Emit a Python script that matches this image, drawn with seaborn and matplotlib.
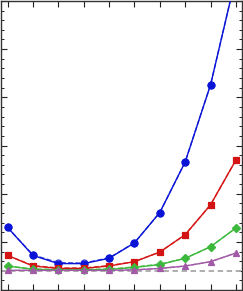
import numpy as np
import matplotlib
matplotlib.use("Agg")
import matplotlib.pyplot as plt
import seaborn as sns
from matplotlib.ticker import MultipleLocator

# x positions
steps = list(range(10))

# solid series (filled markers)
blue_vals = [1.30, 0.72, 0.55, 0.55, 0.66, 0.98, 1.61, 2.66, 4.26, 6.50]
red_vals = [0.72, 0.50, 0.45, 0.45, 0.50, 0.59, 0.79, 1.15, 1.77, 2.70]
green_vals = [0.50, 0.43, 0.42, 0.42, 0.43, 0.47, 0.53, 0.66, 0.90, 1.29]
purple_vals = [0.41, 0.41, 0.41, 0.41, 0.41, 0.42, 0.45, 0.50, 0.59, 0.77]

# dashed series (open markers), nearly on top of the solid ones
blue_dash = [1.30, 0.73, 0.57, 0.56, 0.67, 0.98, 1.61, 2.66, 4.26, 6.50]
red_dash = [0.72, 0.51, 0.46, 0.46, 0.51, 0.59, 0.79, 1.15, 1.77, 2.70]
green_dash = [0.50, 0.44, 0.43, 0.43, 0.44, 0.48, 0.54, 0.66, 0.90, 1.29]
purple_dash = [0.41, 0.41, 0.41, 0.41, 0.41, 0.42, 0.45, 0.50, 0.59, 0.77]

baseline = 0.4

sns.set_style("ticks")
plt.rcParams['font.family'] = ['DejaVu Sans']

fig = plt.figure(figsize=(2.43, 2.91), dpi=100)
ax = fig.add_axes([0.004, 0.003, 0.992, 0.994])

series = [
    (blue_vals, blue_dash, '#0a14d6', 'o', 5.0),
    (red_vals, red_dash, '#d41414', 's', 4.0),
    (green_vals, green_dash, '#3cb83c', 'D', 3.8),
    (purple_vals, purple_dash, '#a25aa8', '^', 4.4),
]

ax.axhline(baseline, color='#a8a8a8', linestyle='--', linewidth=1.3, dashes=(3, 2), zorder=1)

for solid, dash, color, marker, ms in series:
    sns.lineplot(x=steps, y=dash, ax=ax, color=color, linestyle='--', linewidth=1.0,
                 marker=marker, markersize=ms, markerfacecolor='white',
                 markeredgecolor=color, markeredgewidth=0.9, alpha=0.8, zorder=2)
    sns.lineplot(x=steps, y=solid, ax=ax, color=color, linewidth=1.0,
                 marker=marker, markersize=ms, markerfacecolor=color,
                 markeredgecolor=color, zorder=3)

ax.set_xlim(-0.26, 9.24)
ax.set_ylim(0, 6)
ax.xaxis.set_major_locator(MultipleLocator(1))
ax.yaxis.set_major_locator(MultipleLocator(1))
ax.yaxis.set_minor_locator(MultipleLocator(0.2))
ax.tick_params(axis='both', which='both', direction='in', top=True, right=True,
               labelbottom=False, labelleft=False, color='#222222')
ax.tick_params(which='major', length=4.0, width=0.8)
ax.tick_params(which='minor', length=2.2, width=0.7)
for s in ax.spines.values():
    s.set_color('#333333')
    s.set_linewidth(1.0)
ax.set_xlabel('')
ax.set_ylabel('')

fig.savefig('out.png', dpi=100)
